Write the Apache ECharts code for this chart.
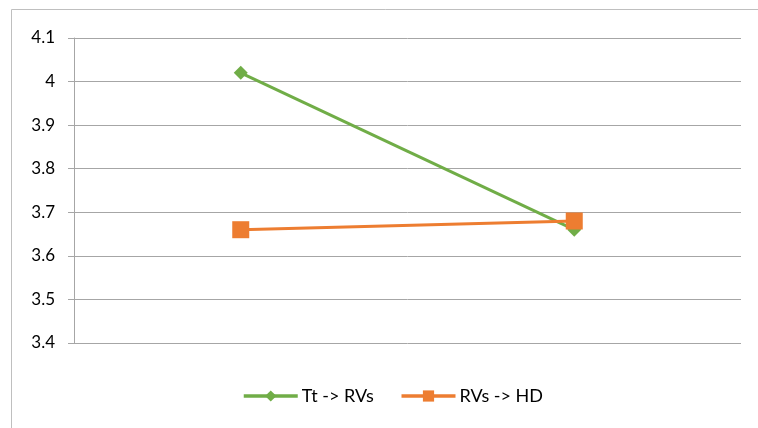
<!DOCTYPE html>
<html><head><meta charset="utf-8">
<script src="https://cdn.jsdelivr.net/npm/echarts@6/dist/echarts.min.js"></script>
<style>html,body{margin:0;padding:0;background:#fff}#c{width:758px;height:428px}</style>
</head><body><div id="c"></div>
<script>
const categories = ['A', 'B'];
const seriesNames = ['Tt -> RVs', 'RVs -> HD'];
const ttRVs = [4.02, 3.66];
const rvsHD = [3.66, 3.68];
const yTicks = [3.4, 3.5, 3.6, 3.7, 3.8, 3.9, 4.0, 4.1];

const chart = echarts.init(document.getElementById('c'));
chart.setOption({
  animation: false,
  textStyle: {fontFamily: 'Lato'},
  graphic: [{type: 'rect', shape: {x: 11.5, y: 9.5, width: 760, height: 430}, style: {fill: 'none', stroke: '#bfbfbf', lineWidth: 1}, silent: true}],
  grid: {left: 74, right: 17, top: 38, bottom: 85, containLabel: false},
  legend: {
    top: 382, left: 237, itemWidth: 54, itemHeight: 14, itemGap: 26,
    textStyle: {fontSize: 18, color: '#000', fontFamily: 'Lato', padding: [0, 0, 0, -1]},
    lineStyle: {width: 3.5},
    data: seriesNames
  },
  xAxis: {
    type: 'category', data: categories, boundaryGap: true,
    axisLine: {show: false}, axisTick: {show: false}, axisLabel: {show: false}
  },
  yAxis: {
    type: 'value', min: yTicks[0], max: yTicks[yTicks.length - 1], interval: 0.1,
    axisLine: {show: true, lineStyle: {color: '#a6a6a6', width: 1}},
    axisTick: {show: true, length: 6, lineStyle: {color: '#a6a6a6'}},
    axisLabel: {fontSize: 17, color: '#000', margin: 19, fontFamily: 'Lato',
      formatter: v => String(Math.round(v * 10) / 10)},
    splitLine: {lineStyle: {color: '#a6a6a6', width: 1}}
  },
  series: [
    {name: seriesNames[0], type: 'line', data: ttRVs, symbol: 'diamond', symbolSize: 14,
      itemStyle: {color: '#70ad47'}, lineStyle: {color: '#70ad47', width: 3}, z: 2},
    {name: seriesNames[1], type: 'line', data: rvsHD, symbol: 'rect', symbolSize: 17,
      itemStyle: {color: '#ed7d31'}, lineStyle: {color: '#ed7d31', width: 3}, z: 3}
  ]
});
</script></body></html>
